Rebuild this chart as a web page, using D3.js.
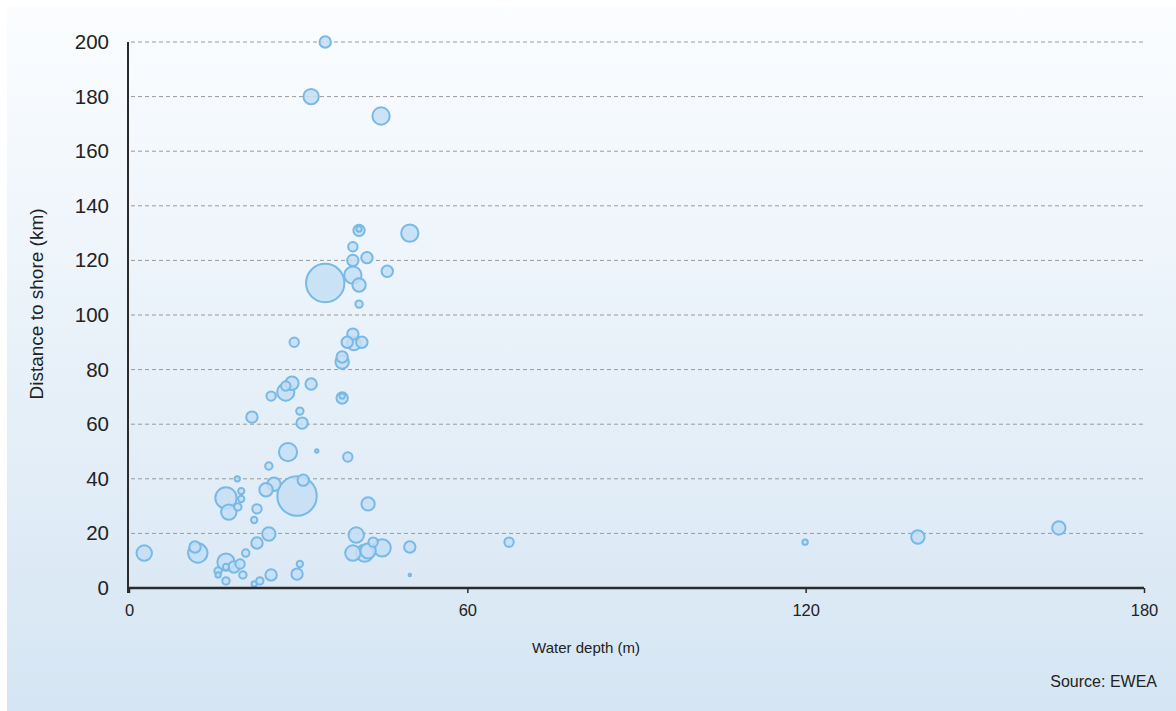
<!DOCTYPE html>
<html>
<head>
<meta charset="utf-8">
<script src="https://cdn.jsdelivr.net/npm/d3@7"></script>
<style>
  html, body { margin: 0; padding: 0; background: #ffffff; }
  svg { display: block; }
</style>
</head>
<body>
<svg id="chart" width="1176" height="711"></svg>
<script>
// ---- data ----
const depth = [34.8, 32.3, 44.7, 49.8, 40.8, 40.8, 39.7, 42.2, 39.7, 39.7, 40.8, 45.8, 34.8, 40.8,
  39.7, 38.7, 39.9, 41.3, 37.8, 37.8, 29.3, 37.8, 37.8, 32.3, 28.9, 27.8, 27.8, 25.2, 30.3, 30.7, 21.8,
  28.2, 33.3, 38.8, 24.8, 19.2, 30.9, 25.7, 24.3, 19.9, 19.9, 17.2, 19.3, 17.7, 22.7, 22.2, 29.8,
  42.4, 24.8, 22.7, 20.7, 2.7, 12.2, 11.7, 17.2, 19.7, 18.6, 17.2, 15.8, 15.8, 17.2, 20.2, 22.2,
  23.2, 25.2, 29.8, 30.3, 40.3, 39.7, 43.3, 44.9, 42.4, 41.8, 49.8, 49.8, 67.4, 119.9, 139.9, 164.9];
const distance = [200, 180, 172.9, 130, 131, 131.5, 125, 121, 120, 114.6, 111, 116, 111.7, 104,
  93, 90, 89.5, 90, 84.6, 82.8, 90, 69.6, 70.3, 74.7, 75, 71.8, 74, 70.3, 64.8, 60.4, 62.6,
  49.8, 50.2, 48, 44.7, 40, 39.5, 38, 36, 35.5, 32.6, 33, 29.7, 27.8, 29, 24.9, 33.7,
  30.8, 19.8, 16.5, 12.8, 12.8, 12.8, 15, 9.5, 8.8, 7.7, 7.7, 6.2, 4.8, 2.6, 4.8, 1.5,
  2.6, 4.8, 5.1, 8.8, 19.4, 12.8, 16.8, 14.7, 13.6, 12.8, 15, 4.8, 16.8, 16.8, 18.7, 22];
const capacity = [90, 160, 200, 200, 90, 22, 62, 90, 90, 200, 122, 90, 950, 40,
  90, 90, 122, 90, 90, 122, 62, 90, 22, 90, 122, 200, 62, 62, 40, 90, 90,
  220, 10, 62, 40, 22, 90, 122, 122, 30, 30, 300, 40, 160, 62, 30, 1000,
  122, 122, 90, 40, 160, 250, 90, 200, 62, 90, 30, 40, 22, 40, 40, 22,
  40, 90, 90, 30, 160, 160, 62, 200, 160, 200, 90, 6, 62, 22, 122, 122];
const xTicks = [0, 60, 120, 180];
const yTicks = [0, 20, 40, 60, 80, 100, 120, 140, 160, 180, 200];

const points = depth.map((d, i) => ({ x: d, y: distance[i], c: capacity[i] }));

// ---- layout ----
const svg = d3.select("#chart");
const W = 1176, H = 711;
const m = { left: 129, right: W - 1144, top: 42, bottom: H - 588 };
const FONT = "'Liberation Sans', Arial, sans-serif";

const defs = svg.append("defs");
const grad = defs.append("linearGradient").attr("id", "bg").attr("x1", 0).attr("y1", 0).attr("x2", 0).attr("y2", 1);
grad.append("stop").attr("offset", "0%").attr("stop-color", "#fbfdff");
grad.append("stop").attr("offset", "100%").attr("stop-color", "#d5e5f3");

svg.append("rect").attr("x", 7).attr("y", 6).attr("width", W - 7).attr("height", H - 6).attr("fill", "url(#bg)");

const x = d3.scaleLinear().domain([0, 180]).range([m.left, W - m.right]);
const y = d3.scaleLinear().domain([0, 200]).range([H - m.bottom, m.top]);
const r = d3.scaleSqrt().domain([0, 1000]).range([0, 20]);

// gridlines
svg.append("g")
  .selectAll("line")
  .data(yTicks.filter(t => t > 0))
  .join("line")
  .attr("x1", x(0) + 2).attr("x2", x(180))
  .attr("y1", d => y(d)).attr("y2", d => y(d))
  .attr("stroke", "#9a9a9a").attr("stroke-width", 1)
  .attr("stroke-dasharray", "4,3");

// bubbles (larger first so small stay visible)
svg.append("g")
  .selectAll("circle")
  .data(points.slice().sort((a, b) => b.c - a.c))
  .join("circle")
  .attr("cx", d => x(d.x))
  .attr("cy", d => y(d.y))
  .attr("r", d => Math.max(1.2, r(d.c) - 0.3))
  .attr("fill", "#c4def4")
  .attr("fill-opacity", 0.85)
  .attr("stroke", "#78b9e6")
  .attr("stroke-width", 2);

// x axis
const xAxis = d3.axisBottom(x).tickValues(xTicks).tickSize(5).tickSizeOuter(0).tickPadding(11);
const gx = svg.append("g").attr("transform", `translate(0,${y(0)})`).call(xAxis);
gx.select(".domain").attr("stroke", "#2b2b2b").attr("stroke-width", 2.5).attr("d", `M${x(0) - 1},0H${x(180)}`);
gx.selectAll(".tick line").attr("stroke", "#2b2b2b").attr("stroke-width", 1.5);
gx.selectAll(".tick text").attr("fill", "#222").style("font-family", FONT).style("font-size", "16.5px");

// y axis
const yAxis = d3.axisLeft(y).tickValues(yTicks).tickSize(0).tickPadding(19);
const gy = svg.append("g").attr("transform", `translate(${x(0) - 1},0)`).call(yAxis);
gy.select(".domain").attr("stroke", "#2b2b2b").attr("stroke-width", 2).attr("d", `M0,${y(200)}V${y(0) + 5}`);
gy.selectAll(".tick text").attr("fill", "#222").style("font-family", FONT).style("font-size", "20.5px");

// labels
svg.append("text")
  .attr("transform", `translate(43,304) rotate(-90)`)
  .attr("text-anchor", "middle")
  .style("font-family", FONT).style("font-size", "19px")
  .attr("fill", "#222")
  .text("Distance to shore (km)");

svg.append("text")
  .attr("x", 586).attr("y", 653)
  .attr("text-anchor", "middle")
  .style("font-family", FONT).style("font-size", "15px")
  .attr("fill", "#222")
  .text("Water depth (m)");

svg.append("text")
  .attr("x", 1157).attr("y", 687)
  .attr("text-anchor", "end")
  .style("font-family", FONT).style("font-size", "16px")
  .attr("fill", "#222")
  .text("Source: EWEA");
</script>
</body>
</html>
